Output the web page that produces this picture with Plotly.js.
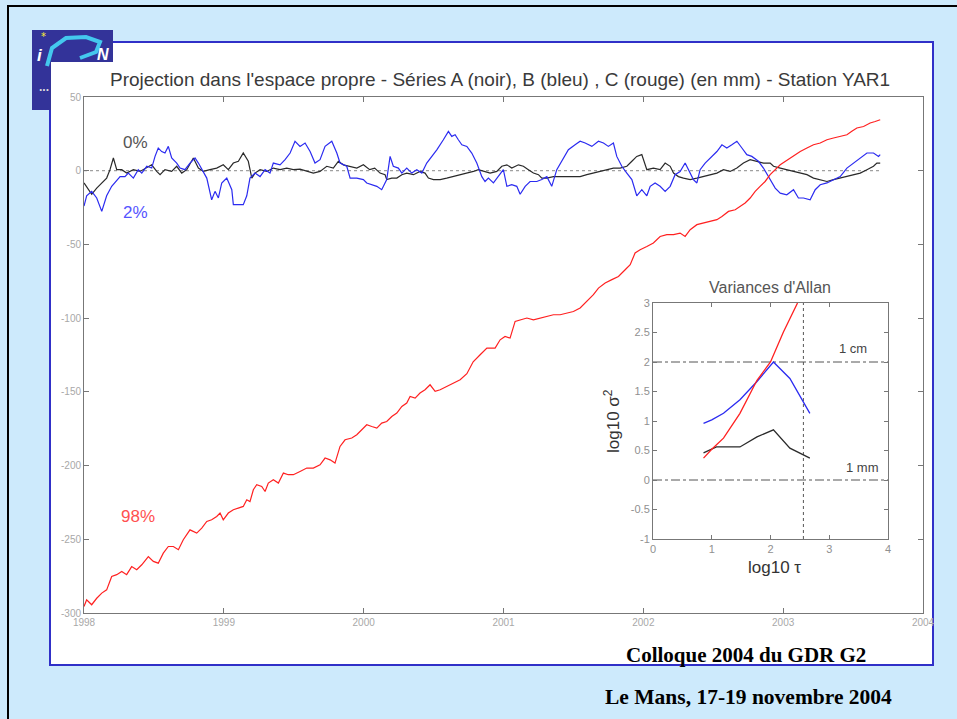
<!DOCTYPE html>
<html><head><meta charset="utf-8">
<script src="https://cdn.plot.ly/plotly-3.0.1.min.js"></script>
<style>html,body{margin:0;padding:0;background:#cdeafc;}#chart{width:957px;height:719px;}</style>
</head><body><div id="chart"></div>
<script>
// ---- Main series (decimal year, mm) ----
const blackT=[1998.000,1998.031,1998.055,1998.091,1998.127,1998.162,1998.186,1998.210,1998.234,1998.270,1998.305,1998.353,1998.401,1998.449,1998.484,1998.520,1998.544,1998.579,1998.627,1998.663,1998.699,1998.735,1998.782,1998.818,1998.853,1998.901,1998.949,1998.996,
1999.032,1999.068,1999.104,1999.139,1999.175,1999.200,1999.223,1999.259,1999.307,1999.354,1999.402,1999.450,1999.497,1999.545,1999.593,1999.640,1999.688,1999.736,1999.783,1999.819,1999.855,1999.903,1999.951,1999.998,
2000.043,2000.079,2000.117,2000.153,2000.165,2000.201,2000.237,2000.273,2000.308,2000.356,2000.403,2000.439,2000.463,2000.499,2000.547,2000.594,2000.642,2000.690,2000.738,2000.785,2000.820,2000.856,2000.904,2000.952,2000.988,
2001.024,2001.059,2001.107,2001.142,2001.178,2001.214,2001.250,2001.274,2001.310,2001.357,2001.405,2001.453,2001.500,2001.548,2001.596,2001.643,2001.691,2001.739,2001.786,2001.834,2001.882,2001.918,2001.953,2001.989,
2002.025,2002.072,2002.120,2002.156,2002.192,2002.216,2002.251,2002.287,2002.335,2002.383,2002.430,2002.478,2002.526,2002.573,2002.621,2002.669,2002.716,2002.764,2002.812,2002.859,2002.907,2002.931,2002.979,
2003.026,2003.074,2003.122,2003.170,2003.217,2003.265,2003.313,2003.360,2003.408,2003.456,2003.503,2003.551,2003.599,2003.646,2003.670,2003.694];
const blackV=[-8.3,-13,-16,-11.8,-8.3,-5,0.7,8.6,0.7,0.7,-1.6,0.7,-0.5,1.8,4,-0.5,-2.7,0.7,-0.5,3,-1.6,0.7,8.6,1.8,-0.5,0.7,1.8,4,
0.7,5.2,6.4,12,6.4,-5,-1.6,0.7,-0.5,1.8,0.7,1.8,0.7,1.1,-0.5,-1.6,-0.5,3,1.8,6.4,4,3,1.8,4,
0.7,1.8,-1.6,-2.7,-6,-5,-5,-2.7,-1.6,-2.7,-0.5,-1.6,-5,-6,-6,-5,-4,-2.7,-1.6,-0.5,0.7,-0.5,-1.6,-0.5,3,
4,1.8,4,3,0.7,-1.6,-2.7,-5,-5,-4,-4,-4,-4,-4,-2.7,-1.6,-0.5,0.7,1.8,1.8,3,6.4,9.7,10.9,
0.7,1.8,0.7,5.2,3,-1.6,-4,-5,-6,-5,-4,-2.7,-1.6,0.7,-0.5,1.8,5.2,7.5,6.4,5.2,5.2,3,1.8,
0.7,-0.5,-1.6,-2.7,-5,-6,-7.3,-6,-5,-4,-2.7,-1.6,0.7,3,5.2,5.2];

const blueT=[1998.000,1998.019,1998.055,1998.091,1998.127,1998.162,1998.198,1998.234,1998.258,1998.293,1998.317,1998.353,1998.388,1998.413,1998.449,1998.484,1998.508,1998.531,1998.556,1998.579,1998.603,1998.627,1998.663,1998.687,1998.722,1998.758,1998.794,1998.818,1998.853,1998.878,1998.913,1998.937,1998.961,1998.985,
1999.021,1999.057,1999.068,1999.104,1999.139,1999.164,1999.187,1999.223,1999.259,1999.295,1999.330,1999.354,1999.402,1999.438,1999.474,1999.509,1999.545,1999.581,1999.617,1999.652,1999.688,1999.724,1999.772,1999.808,1999.831,1999.879,1999.903,1999.951,1999.998,
2000.022,2000.058,2000.094,2000.129,2000.165,2000.189,2000.212,2000.248,2000.273,2000.308,2000.344,2000.380,2000.416,2000.451,2000.487,2000.523,2000.570,2000.606,2000.630,2000.654,2000.677,2000.702,2000.738,2000.773,2000.809,2000.845,2000.868,2000.892,2000.928,2000.964,2000.999,
2001.024,2001.059,2001.095,2001.119,2001.155,2001.190,2001.238,2001.274,2001.310,2001.345,2001.381,2001.429,2001.464,2001.512,2001.548,2001.584,2001.632,2001.679,2001.715,2001.750,2001.786,2001.810,2001.846,2001.882,2001.918,2001.953,2001.989,
2002.025,2002.049,2002.084,2002.120,2002.156,2002.192,2002.227,2002.263,2002.299,2002.323,2002.358,2002.383,2002.406,2002.442,2002.466,2002.490,2002.526,2002.562,2002.597,2002.633,2002.669,2002.705,2002.740,2002.776,2002.823,2002.859,2002.895,2002.919,2002.943,2002.979,
2003.026,2003.074,2003.109,2003.145,2003.193,2003.229,2003.265,2003.313,2003.360,2003.408,2003.456,2003.503,2003.551,2003.599,2003.646,2003.682,2003.694];
const blueV=[-24,-17,-14,-18.5,-27.6,-17,-10.6,-7,-4,-4,-1.6,-5,0.7,-1.6,3,1.8,9.7,15.4,13,12,16.5,8.6,5.2,1.8,0.7,5.2,8.6,5.2,-0.5,-5,-19.7,-14,-18.5,-8.3,
-5,-12.9,-23,-23,-23,-17,-5,-1.6,-4,0.7,-1.6,5.2,4,7.5,12,20,16.5,18.8,13,5.2,7.5,16.5,20,12,5.2,3,-5,-5,-6,
-8.3,-9.5,-10.6,-12.9,-6,9.7,3,1.8,-1.6,1.8,-1.6,0.7,-1.6,5.2,9.7,14.2,21,26.7,23.3,24.4,21,17.6,16.5,12,5.2,-4,-7.3,-5,-8.3,-4,0.7,
-10.6,-9.5,-10.6,-16,-10.6,-7.3,-7.3,-6,-4,-10.6,0.7,8.6,14.2,17.6,20,18.8,16.5,20,18.8,16.5,18.8,9.7,3,-1.6,-6,-17,-12.9,
-17,-10.6,-8.3,-10.6,-14,-10.6,-2.7,-0.5,5.2,0.7,-6,-8.3,0.7,5.2,7.5,9.7,13,17.6,15.4,17.6,20,15.4,10.9,9.7,6.4,1.8,-4,-7.3,-11.8,-15.2,
-16.3,-12.9,-18.5,-18.5,-19.7,-12.9,-9.5,-8.3,-6,-4,1.8,5.2,8.6,12,12,9.7,10.9];

const redT=[1998.000,1998.019,1998.055,1998.091,1998.127,1998.162,1998.198,1998.234,1998.270,1998.305,1998.341,1998.377,1998.413,1998.460,1998.496,1998.531,1998.567,1998.603,1998.639,1998.675,1998.710,1998.758,1998.806,1998.842,1998.878,1998.913,1998.949,1998.973,1998.996,
1999.032,1999.068,1999.104,1999.139,1999.164,1999.187,1999.211,1999.235,1999.271,1999.295,1999.318,1999.354,1999.390,1999.426,1999.461,1999.497,1999.545,1999.593,1999.640,1999.688,1999.724,1999.760,1999.795,1999.831,1999.867,1999.915,1999.951,1999.986,
2000.022,2000.058,2000.094,2000.129,2000.165,2000.201,2000.237,2000.273,2000.308,2000.332,2000.368,2000.403,2000.439,2000.475,2000.511,2000.547,2000.594,2000.642,2000.690,2000.738,2000.783,2000.833,2000.881,2000.940,2000.976,
2001.011,2001.047,2001.083,2001.119,2001.167,2001.214,2001.262,2001.310,2001.357,2001.405,2001.453,2001.500,2001.548,2001.572,2001.596,2001.643,2001.679,2001.727,2001.775,2001.822,2001.870,2001.906,2001.941,2001.977,
2002.025,2002.072,2002.120,2002.168,2002.216,2002.263,2002.299,2002.335,2002.383,2002.430,2002.478,2002.526,2002.562,2002.609,2002.657,2002.692,2002.728,2002.764,2002.800,2002.835,2002.871,2002.907,2002.943,2002.979,
2003.014,2003.050,2003.086,2003.122,2003.170,2003.217,2003.265,2003.313,2003.360,2003.408,2003.456,2003.491,2003.527,2003.575,2003.622,2003.658,2003.694];
const redV=[-295.6,-291,-294.4,-290,-286.5,-284.3,-275.2,-274,-271.8,-274,-268.5,-270.7,-267.3,-261.7,-265,-266.2,-259.4,-254.9,-254.9,-257.1,-250.3,-243.6,-245.8,-242.4,-237.9,-236.8,-234.5,-232.2,-236.8,
-232.2,-230,-228.8,-227.7,-223.2,-224.4,-216.4,-213,-214.2,-217.6,-211.9,-209.6,-211.9,-205.1,-206.2,-206.2,-204,-201.7,-201.7,-199.5,-194.9,-196.1,-198.3,-187,-182.5,-181.3,-179.1,-175.7,
-172.3,-173.5,-174.6,-171.2,-170.1,-166.7,-164.4,-159.9,-157.6,-153.1,-154.2,-150.8,-148.6,-145.2,-149.7,-148.6,-146.3,-144,-141.8,-137.7,-129.6,-124.8,-120.3,-120.3,-114.7,
-112.4,-113.5,-102.2,-101.1,-99.9,-101.1,-99.9,-98.8,-97.7,-97.7,-96.5,-95.5,-93.1,-90.9,-88.7,-84.1,-79.6,-76.2,-73.9,-71.7,-67.2,-63.8,-55.8,-53.6,
-51.4,-49,-44.6,-43.4,-43.4,-42.3,-44.6,-40,-36.6,-35.5,-34.4,-33.2,-31,-27.6,-26.5,-24.2,-21.9,-18.5,-14,-10.6,-7.3,-2.7,0.7,4,
6.3,8.6,10.9,13.1,15.4,17.6,18.8,21,22.2,23.3,24.4,26.7,29,30,32.4,33.4,34.6];

// ---- Inset: Allan variances (log10 tau, log10 sigma^2) ----
const allanRedX=[0.86,1.0,1.2,1.48,1.77,2.0,2.22,2.46];
const allanRedY=[0.37,0.52,0.71,1.13,1.69,2.0,2.51,3.0];
const allanBlueX=[0.86,1.0,1.2,1.48,1.77,2.05,2.33,2.67];
const allanBlueY=[0.96,1.02,1.13,1.36,1.67,2.0,1.72,1.13];
const allanBlackX=[0.86,1.08,1.48,1.77,2.05,2.33,2.67];
const allanBlackY=[0.46,0.56,0.56,0.73,0.85,0.54,0.37];

// ---- Tick labels ----
const yearTicks=[1998,1999,2000,2001,2002,2003,2004];
const yearLabels=['1998','1999','2000','2001','2002','2003','2004'];
const mmTicks=[50,0,-50,-100,-150,-200,-250,-300];
const mmLabels=['50','0','-50','-100','-150','-200','-250','-300'];
const tauTicks=[0,1,2,3,4];
const tauLabels=['0','1','2','3','4'];
const sigTicks=[-1,-0.5,0,0.5,1,1.5,2,2.5,3];
const sigLabels=['-1','-0.5','0','0.5','1','1.5','2','2.5','3'];

const W=957,H=719;
const px=x=>x/W, py=y=>1-y/H;
const fit=(a,b)=>{const n=Math.min(a.length,b.length);return [a.slice(0,n),b.slice(0,n)];};

const [bT,bV]=fit(blackT,blackV), [uT,uV]=fit(blueT,blueV), [rT,rV]=fit(redT,redV);

const traces=[
 {x:bT,y:bV,type:'scatter',mode:'lines',line:{color:'#2a2a2a',width:1.2},xaxis:'x',yaxis:'y',hoverinfo:'skip'},
 {x:uT,y:uV,type:'scatter',mode:'lines',line:{color:'#2b2bf0',width:1.2},xaxis:'x',yaxis:'y',hoverinfo:'skip'},
 {x:rT,y:rV,type:'scatter',mode:'lines',line:{color:'#ff2020',width:1.2},xaxis:'x',yaxis:'y',hoverinfo:'skip'},
 {x:allanBlackX,y:allanBlackY,type:'scatter',mode:'lines',line:{color:'#2a2a2a',width:1.3},xaxis:'x2',yaxis:'y2',hoverinfo:'skip'},
 {x:allanBlueX,y:allanBlueY,type:'scatter',mode:'lines',line:{color:'#2b2bf0',width:1.3},xaxis:'x2',yaxis:'y2',hoverinfo:'skip'},
 {x:allanRedX,y:allanRedY,type:'scatter',mode:'lines',line:{color:'#ff2020',width:1.3},xaxis:'x2',yaxis:'y2',hoverinfo:'skip'}
];

const axBase={ticks:'inside',ticklen:5,tickcolor:'#777',showline:true,linecolor:'#777',linewidth:1,mirror:'ticks',
  showgrid:false,zeroline:false,tickmode:'array'};

function rect(x0,y0,x1,y1,fill,line,lw){return {type:'rect',xref:'paper',yref:'paper',x0:px(x0),x1:px(x1),y0:py(y1),y1:py(y0),
  fillcolor:fill,line:{color:line||'rgba(0,0,0,0)',width:lw||0},layer:'below'};}

// swoosh of the logo (decoration)
const sw=[[47,66],[52,48],[66,38],[86,37],[100,42],[96,52],[80,58]];
let swPath='M '+sw.map(p=>px(p[0])+' '+py(p[1])).join(' L ');

const shapes=[
 rect(8,6,970,730,'#cdeafc','#000',2),
 rect(50,42,933,665,'#ffffff','#3030c8',2),
 rect(32,30,113,110,'#333399'),
 {type:'path',xref:'paper',yref:'paper',path:swPath,line:{color:'#44c8ee',width:4},layer:'below'},
 rect(51,62,931,606,'#ffffff'),
 {type:'line',xref:'x',yref:'y',x0:1998,x1:2003.694,y0:0,y1:0,line:{color:'#888',width:1,dash:'dot'},layer:'below'},
 {type:'line',xref:'x2',yref:'y2',x0:0,x1:4,y0:2,y1:2,line:{color:'#555',width:1,dash:'dashdot'},layer:'below'},
 {type:'line',xref:'x2',yref:'y2',x0:0,x1:4,y0:0,y1:0,line:{color:'#555',width:1,dash:'dashdot'},layer:'below'},
 {type:'line',xref:'x2',yref:'y2',x0:2.56,x1:2.56,y0:-1,y1:3,line:{color:'#555',width:1,dash:'dot'},layer:'below'}
];

const SANS='Liberation Sans, Arial, sans-serif';
function ann(x,y,text,opt){return Object.assign({xref:'paper',yref:'paper',x:px(x),y:py(y),text:text,showarrow:false,
  xanchor:'center',yanchor:'middle',font:{family:SANS,size:12,color:'#333'}},opt||{});}

const annotations=[
 ann(500,80,"Projection dans l'espace propre - Séries A (noir), B (bleu) , C (rouge) (en mm) - Station YAR1",{font:{family:SANS,size:19,color:'#3a3a3a'}}),
 ann(135,142,'0%',{font:{family:SANS,size:17,color:'#555'}}),
 ann(135,213,'2%',{font:{family:SANS,size:17,color:'#5555ff'}}),
 ann(138,516,'98%',{font:{family:SANS,size:17,color:'#ff5050'}}),
 ann(770,287,"Variances d'Allan",{font:{family:SANS,size:16,color:'#555'}}),
 ann(612,421,'log10 σ<sup>2</sup>',{textangle:-90,font:{family:SANS,size:17,color:'#333'}}),
 ann(774,567,'log10 τ',{font:{family:SANS,size:17,color:'#333'}}),
 ann(853,348,'1 cm',{font:{family:SANS,size:13,color:'#444'}}),
 ann(862,467,'1 mm',{font:{family:SANS,size:13,color:'#444'}}),
 ann(746,655,'<b>Colloque 2004 du GDR G2</b>',{font:{family:'Liberation Serif, Times New Roman, serif',size:21,color:'#000'}}),
 ann(748,697,'<b>Le Mans, 17-19 novembre 2004</b>',{font:{family:'Liberation Serif, Times New Roman, serif',size:21.5,color:'#000'}}),
 // logo letters
 ann(43,36,'*',{font:{family:'DejaVu Sans',size:10,color:'#ffee33'}}),
 ann(40,56,'<b><i>i</i></b>',{font:{family:SANS,size:17,color:'#ffffff'}}),
 ann(103,55,'<b><i>N</i></b>',{font:{family:SANS,size:16,color:'#ffffff'}}),
 ann(44,87,'<b>...</b>',{font:{family:SANS,size:12,color:'#dddddd'}})
];

const tf={family:SANS,size:10,color:'#a8a8a8'};
const tf2={family:SANS,size:11,color:'#909090'};

const layout={
 width:W,height:H,margin:{l:0,r:0,t:0,b:0},paper_bgcolor:'#cdeafc',plot_bgcolor:'#ffffff',showlegend:false,
 xaxis:Object.assign({},axBase,{domain:[px(84),px(923)],range:[1998,2004],tickvals:yearTicks,ticktext:yearLabels,tickfont:tf,anchor:'y'}),
 yaxis:Object.assign({},axBase,{domain:[py(613),py(97)],range:[-300,50],tickvals:mmTicks,ticktext:mmLabels,tickfont:tf,anchor:'x'}),
 xaxis2:Object.assign({},axBase,{domain:[px(653),px(888)],range:[0,4],tickvals:tauTicks,ticktext:tauLabels,tickfont:tf2,anchor:'y2',ticklen:4}),
 yaxis2:Object.assign({},axBase,{domain:[py(539),py(303)],range:[-1,3],tickvals:sigTicks,ticktext:sigLabels,tickfont:tf2,anchor:'x2',ticklen:4}),
 shapes:shapes,annotations:annotations
};
Plotly.newPlot('chart',traces,layout,{staticPlot:true,displayModeBar:false});
</script></body></html>
